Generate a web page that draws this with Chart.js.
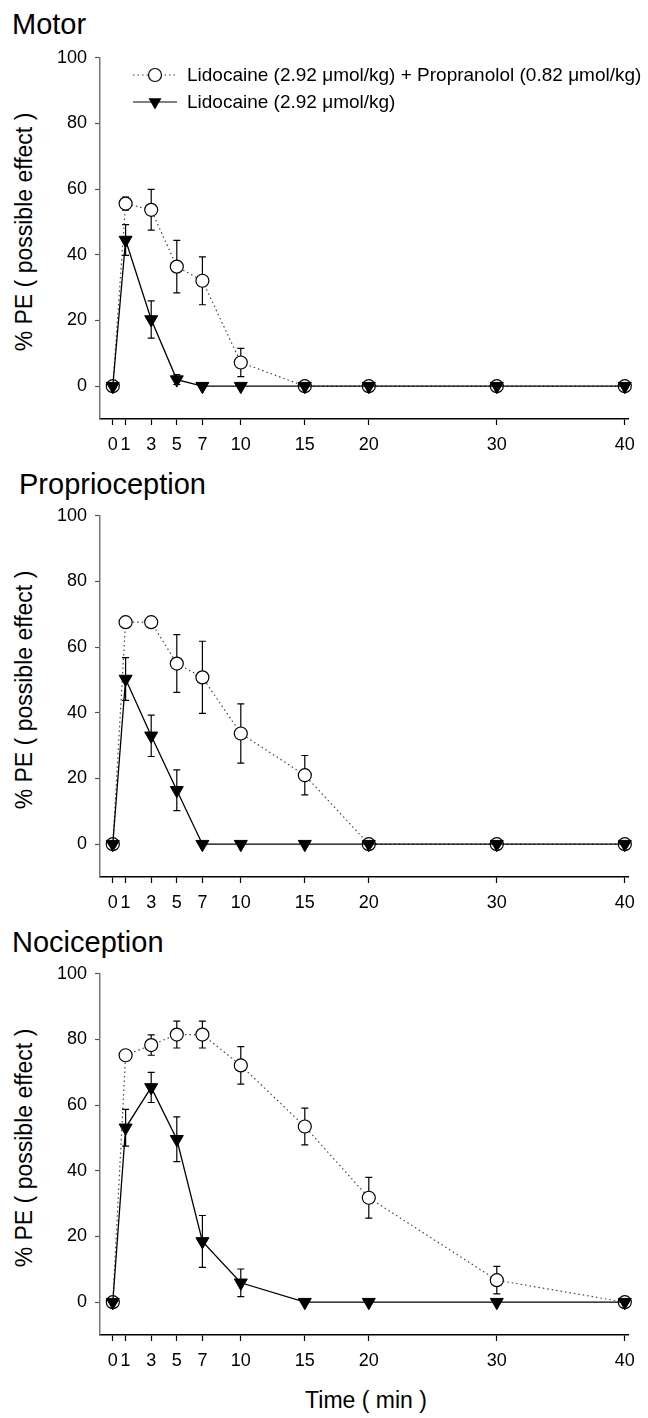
<!DOCTYPE html>
<html>
<head>
<meta charset="utf-8">
<script src="https://cdn.jsdelivr.net/npm/chart.js@4.4.1/dist/chart.umd.min.js"></script>
<style>
    body { margin: 0; background: #fff; width: 648px; height: 1418px; position: relative; overflow: hidden; font-family: Arial, "Liberation Sans", sans-serif; color: #000; }
    .panel { position: absolute; left: 0; }
    .title { position: absolute; font-size: 29px; line-height: 1; white-space: nowrap; }
    .ylab { position: absolute; font-size: 23px; line-height: 1; white-space: nowrap; transform: translate(-50%, -50%) rotate(-90deg); }
    .xlab { position: absolute; font-size: 23px; line-height: 1; white-space: nowrap; transform: translate(-50%, -50%); }
</style>
</head>
<body>
<div class="title" style="left:12px; top:10px;">Motor</div>
<div class="title" style="left:19px; top:470px;">Proprioception</div>
<div class="title" style="left:12px; top:928px;">Nociception</div>

<div class="ylab" style="left:24px; top:232px;">% PE ( possible effect )</div>
<div class="ylab" style="left:24px; top:690px;">% PE ( possible effect )</div>
<div class="ylab" style="left:24px; top:1148px;">% PE ( possible effect )</div>
<div class="xlab" style="left:366px; top:1400px;">Time ( min )</div>

<canvas id="motor" class="panel" width="648" height="430" style="top:39px;"></canvas>
<canvas id="proprio" class="panel" width="648" height="430" style="top:497px;"></canvas>
<canvas id="noci" class="panel" width="648" height="430" style="top:955px;"></canvas>

<script>
// time points (min) and axis ticks
const times = [0, 1, 3, 5, 7, 10, 15, 20, 30, 40];
const xTicks = [0, 1, 3, 5, 7, 10, 15, 20, 30, 40];
const yTicks = [0, 20, 40, 60, 80, 100];

const labelCombo = 'Lidocaine (2.92 \u03bcmol/kg) + Propranolol (0.82 \u03bcmol/kg)';
const labelLido = 'Lidocaine (2.92 \u03bcmol/kg)';

// Motor
const motorCombo    = [0, 55.6, 53.7, 36.4, 32.1, 7.2, 0, 0, 0, 0];
const motorComboErr = [0, 2.0, 6.2, 8.0, 7.3, 4.3, 0, 0, 0, 0];
const motorLido     = [0, 44.5, 20.3, 2.0, 0, 0, 0, 0, 0, 0];
const motorLidoErr  = [0, 4.7, 5.7, 1.5, 0, 0, 0, 0, 0, 0];

// Proprioception
const propCombo    = [0, 67.6, 67.6, 55.0, 50.8, 33.7, 21.0, 0, 0, 0];
const propComboErr = [0, 0, 0, 8.8, 11.0, 9.0, 6.0, 0, 0, 0];
const propLido     = [0, 50.3, 33.0, 16.4, 0, 0, 0, 0, 0, 0];
const propLidoErr  = [0, 6.5, 6.3, 6.2, 0, 0, 0, 0, 0, 0];

// Nociception
const nociCombo    = [0, 75.2, 78.3, 81.5, 81.5, 72.1, 53.5, 31.8, 6.7, 0];
const nociComboErr = [0, 0, 3.1, 4.1, 4.1, 5.7, 5.6, 6.2, 4.2, 0];
const nociLido     = [0, 53.1, 65.4, 49.6, 18.5, 5.9, 0, 0, 0, 0];
const nociLidoErr  = [0, 5.6, 4.6, 6.8, 7.9, 4.2, 0, 0, 0, 0];

const FONT = 'Arial, "Liberation Sans", sans-serif';

// vertical error bars with caps, drawn under the markers
const errorBars = {
    id: 'errorBars',
    beforeDatasetsDraw(chart) {
        const { ctx, scales: { x, y } } = chart;
        ctx.save();
        ctx.strokeStyle = '#000';
        ctx.lineWidth = 1.2;
        chart.data.datasets.forEach(ds => {
            ds.data.forEach((p, i) => {
                const e = ds.errors[i];
                if (!e) return;
                const px = x.getPixelForValue(p.x);
                const top = y.getPixelForValue(p.y + e);
                const bot = y.getPixelForValue(p.y - e);
                ctx.beginPath();
                ctx.moveTo(px, top); ctx.lineTo(px, bot);
                ctx.moveTo(px - 3.5, top); ctx.lineTo(px + 3.5, top);
                ctx.moveTo(px - 3.5, bot); ctx.lineTo(px + 3.5, bot);
                ctx.stroke();
            });
        });
        ctx.restore();
    }
};

// legend in the top panel: line sample + marker + text
const sampleLegend = {
    id: 'sampleLegend',
    afterDraw(chart, args, opts) {
        if (!opts.show) return;
        const ctx = chart.ctx;
        const rows = [
            { y: 36, dash: [1.5, 3], color: '#444', marker: 'circle', text: labelCombo },
            { y: 63, dash: [], color: '#000', marker: 'tri', text: labelLido }
        ];
        ctx.save();
        rows.forEach(r => {
            ctx.beginPath();
            ctx.setLineDash(r.dash);
            ctx.strokeStyle = r.color;
            ctx.lineWidth = 1.2;
            ctx.moveTo(133, r.y); ctx.lineTo(177, r.y);
            ctx.stroke();
            ctx.setLineDash([]);
            ctx.beginPath();
            if (r.marker === 'circle') {
                ctx.arc(155, r.y, 6.5, 0, Math.PI * 2);
                ctx.fillStyle = '#fff'; ctx.fill();
                ctx.strokeStyle = '#000'; ctx.stroke();
            } else {
                const rr = 7.5;
                ctx.moveTo(155, r.y + rr);
                ctx.lineTo(155 - rr * 0.866, r.y - rr / 2);
                ctx.lineTo(155 + rr * 0.866, r.y - rr / 2);
                ctx.closePath();
                ctx.fillStyle = '#000'; ctx.fill();
            }
            ctx.fillStyle = '#000';
            ctx.font = '19px ' + FONT;
            ctx.textBaseline = 'middle';
            ctx.fillText(r.text, 187, r.y + 1);
        });
        ctx.restore();
    }
};

function makePanel(id, combo, comboErr, lido, lidoErr, showLegend) {
    const toPts = vals => times.map((t, i) => ({ x: t, y: vals[i] }));
    return new Chart(document.getElementById(id), {
        type: 'line',
        data: {
            datasets: [
                {
                    label: labelLido, data: toPts(lido), errors: lidoErr, order: 0,
                    borderColor: '#000', borderWidth: 1.3, tension: 0, clip: false,
                    pointStyle: 'triangle', pointRotation: 180, pointRadius: 7.5,
                    pointBackgroundColor: '#000', pointBorderColor: '#000', pointBorderWidth: 1
                },
                {
                    label: labelCombo, data: toPts(combo), errors: comboErr, order: 1,
                    borderColor: '#444', borderWidth: 1.2, borderDash: [1.5, 3], tension: 0, clip: false,
                    pointStyle: 'circle', pointRadius: 6.5,
                    pointBackgroundColor: '#fff', pointBorderColor: '#000', pointBorderWidth: 1.2
                }
            ]
        },
        options: {
            responsive: false,
            animation: false,
            events: [],
            layout: { padding: { top: 15, right: 20, left: 0, bottom: 0 } },
            plugins: {
                legend: { display: false },
                tooltip: { enabled: false },
                sampleLegend: { show: showLegend }
            },
            scales: {
                x: {
                    type: 'linear', min: -1, max: 40.25,
                    afterBuildTicks: s => { s.ticks = xTicks.map(v => ({ value: v })); },
                    afterFit: s => { s.height = 50; },
                    ticks: { autoSkip: false, maxRotation: 0, padding: 9, color: '#000', font: { size: 18, family: FONT } },
                    grid: { drawOnChartArea: false, drawTicks: true, tickLength: 6, tickColor: '#000', tickWidth: 1.2 },
                    border: { display: true, color: '#000', width: 1.5 }
                },
                y: {
                    min: -10, max: 100,
                    afterBuildTicks: s => { s.ticks = yTicks.map(v => ({ value: v })); },
                    afterFit: s => { s.width = 100; },
                    ticks: { padding: 8, color: '#000', font: { size: 18, family: FONT } },
                    grid: { drawOnChartArea: false, drawTicks: true, tickLength: 5, tickColor: '#555', tickWidth: 1.2 },
                    border: { display: true, color: '#777', width: 1.5 }
                }
            }
        },
        plugins: [errorBars, sampleLegend]
    });
}

makePanel('motor', motorCombo, motorComboErr, motorLido, motorLidoErr, true);
makePanel('proprio', propCombo, propComboErr, propLido, propLidoErr, false);
makePanel('noci', nociCombo, nociComboErr, nociLido, nociLidoErr, false);
</script>
</body>
</html>
